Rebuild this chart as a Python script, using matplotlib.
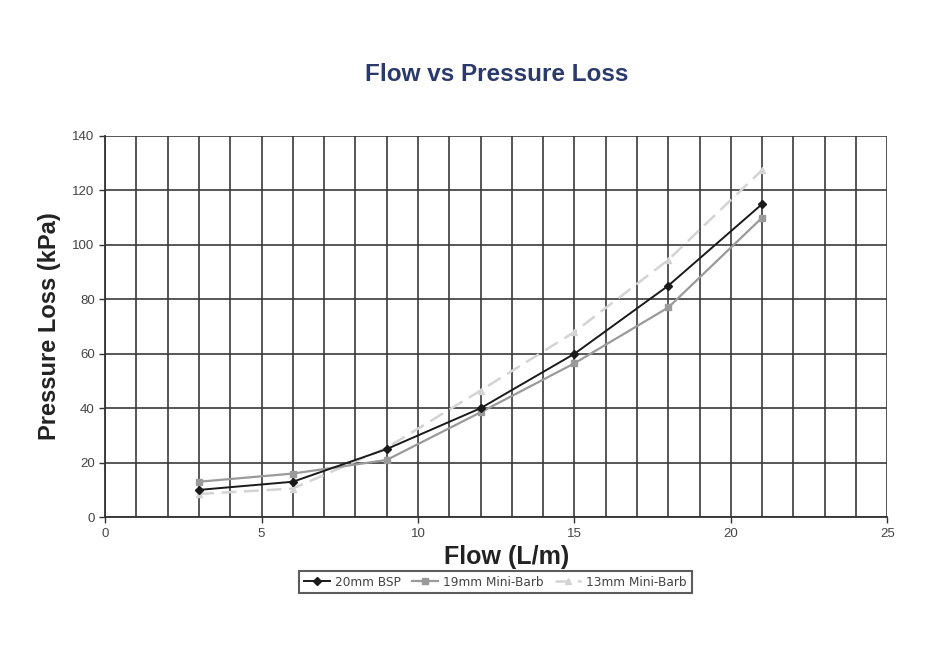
import matplotlib.pyplot as plt
import numpy as np

plt.rcParams['font.family'] = ['Liberation Sans', 'DejaVu Sans']

# flow (L/m) and pressure loss (kPa)
flow = [3, 6, 9, 12, 15, 18, 21]
bsp_20mm = [10, 13, 25, 40, 60, 85, 115]
barb_19mm = [13, 16, 21, 38.5, 56.5, 77, 110]
barb_13mm = [8.5, 10.5, 25.5, 46.5, 68, 94.5, 127.5]

x_ticks = [0, 5, 10, 15, 20, 25]
y_ticks = [0, 20, 40, 60, 80, 100, 120, 140]

fig = plt.figure(figsize=(9.47, 6.63), dpi=100)
ax = fig.add_axes([0.111, 0.220, 0.826, 0.575])

ax.plot(flow, barb_13mm, color='#d4d4d4', lw=1.8, ls=(0, (6, 3)), marker='^', ms=4,
        label='13mm Mini-Barb', zorder=3)
ax.plot(flow, barb_19mm, color='#9a9a9a', lw=1.6, marker='s', ms=4,
        label='19mm Mini-Barb', zorder=4)
ax.plot(flow, bsp_20mm, color='#1a1a1a', lw=1.4, marker='D', ms=4,
        label='20mm BSP', zorder=5)

ax.set_xlim(0, 25)
ax.set_ylim(0, 140)
ax.set_xticks(x_ticks)
ax.set_yticks(y_ticks)
ax.set_xticks(np.arange(0, 26, 1), minor=True)
ax.grid(True, which='major', color='#3a3a3a', lw=1.2)
ax.grid(True, which='minor', axis='x', color='#3a3a3a', lw=1.2)
ax.tick_params(which='minor', length=0)
ax.tick_params(which='major', length=4, width=1, color='#333333',
               labelsize=9.5, labelcolor='#444444')

for side in ['top', 'right']:
    ax.spines[side].set_visible(False)
for side in ['left', 'bottom']:
    ax.spines[side].set_color('#333333')
    ax.spines[side].set_linewidth(1.3)

ax.set_xlabel('Flow (L/m)', fontsize=18, fontweight='bold', color='#222222')
ax.xaxis.set_label_coords(0.513, -0.072)
ax.set_ylabel('Pressure Loss (kPa)', fontsize=17, fontweight='bold', color='#222222', labelpad=8)

fig.text(0.524, 0.888, 'Flow vs Pressure Loss', ha='center', va='center',
         fontsize=17.5, fontweight='bold', color='#2b3a6b')

handles, labels = ax.get_legend_handles_labels()
leg = fig.legend(handles[::-1], labels[::-1], loc='center', bbox_to_anchor=(0.523, 0.122),
                 ncol=3, frameon=True, fancybox=False, handlelength=2.2,
                 columnspacing=0.9, handletextpad=0.4, borderpad=0.4,
                 prop={'family': 'DejaVu Sans', 'size': 8.7})
leg.get_frame().set_edgecolor('#333333')
leg.get_frame().set_linewidth(1.5)
for t in leg.get_texts():
    t.set_color('#444444')

fig.savefig('out.png', dpi=100)
